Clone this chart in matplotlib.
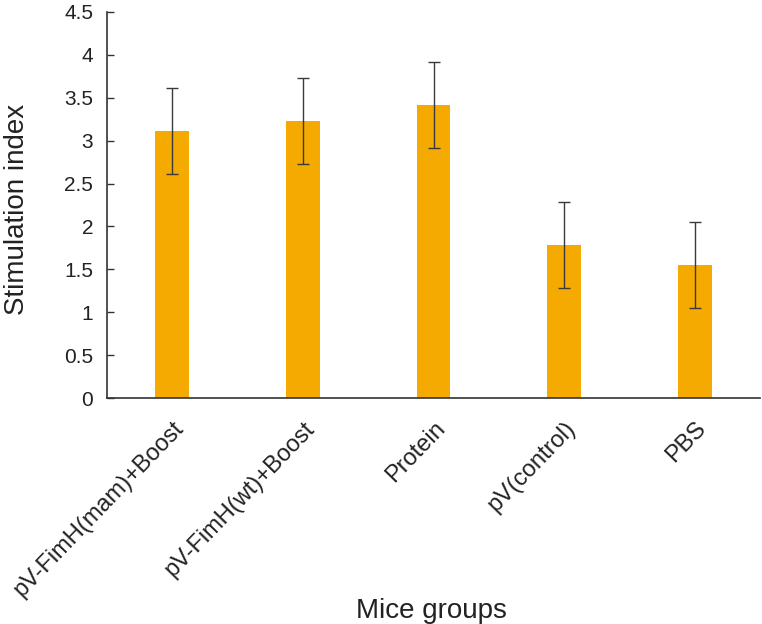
import matplotlib
matplotlib.use("Agg")
import matplotlib.pyplot as plt
import numpy as np

groups = ["pV-FimH(mam)+Boost", "pV-FimH(wt)+Boost", "Protein", "pV(control)", "PBS"]
values = [3.11, 3.23, 3.41, 1.78, 1.55]
errors = [0.50, 0.50, 0.50, 0.50, 0.50]
yticks = [0, 0.5, 1, 1.5, 2, 2.5, 3, 3.5, 4, 4.5]
ytick_labels = ["0", "0.5", "1", "1.5", "2", "2.5", "3", "3.5", "4", "4.5"]

plt.rcParams['font.family'] = ['Liberation Sans', 'DejaVu Sans']

fig = plt.figure(figsize=(7.62, 6.24), dpi=100)
ax = fig.add_axes([0.1404, 0.362, 0.857, 0.619])

x = np.arange(len(groups))
ax.bar(x, values, width=0.26, color="#F4AA00", zorder=2)
ax.errorbar(x, values, yerr=errors, fmt="none", ecolor="#3a3a3a",
            elinewidth=1.0, capsize=4, capthick=1.0, zorder=3)

ax.set_xlim(-0.5, 4.5)
ax.set_ylim(0, 4.5)
ax.set_yticks(yticks)
ax.set_yticklabels(ytick_labels, fontsize=15, color="#222222")
ax.set_xticks(x)
ax.set_xticklabels(groups, rotation=46, ha="right", rotation_mode="anchor",
                   fontsize=17, color="#222222")
ax.tick_params(axis="x", length=0, pad=14)
ax.tick_params(axis="y", direction="in", length=5, width=1, color="#333333", pad=10)

for s in ["top", "right"]:
    ax.spines[s].set_visible(False)
for s in ["left", "bottom"]:
    ax.spines[s].set_color("#333333")
    ax.spines[s].set_linewidth(1.2)

fig.text(17 / 762, 1 - 209 / 624, "Stimulation index", rotation=90,
         ha="center", va="center", fontsize=20, color="#222222")
fig.text(431 / 762, 1 - 618 / 624, "Mice groups", ha="center", va="baseline",
         fontsize=20, color="#222222")

fig.savefig("out.png", dpi=100)
